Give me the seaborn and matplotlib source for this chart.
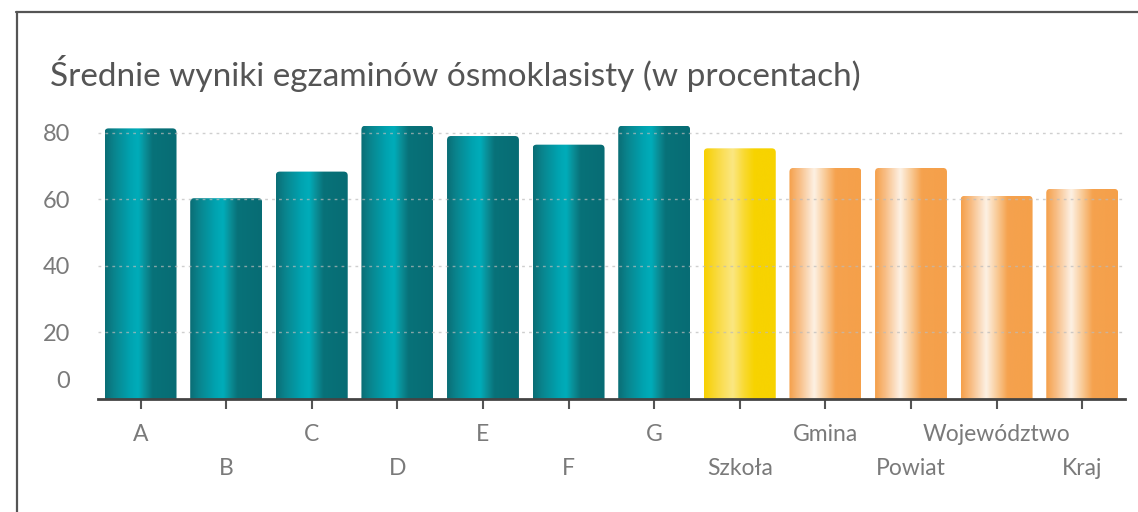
import matplotlib
matplotlib.use('Agg')
import matplotlib.pyplot as plt
import matplotlib.transforms as mtransforms
from matplotlib.colors import LinearSegmentedColormap
from matplotlib.patches import FancyBboxPatch
import numpy as np
import pandas as pd
import seaborn as sns

categories = ['A', 'B', 'C', 'D', 'E', 'F', 'G',
              'Szkoła', 'Gmina', 'Powiat', 'Województwo', 'Kraj']
values = [81.3, 60.3, 68.3, 82.1, 79.0, 76.4, 82.1, 75.3, 69.4, 69.4, 61.0, 63.1]
groups = ['klasa'] * 7 + ['szkoła'] + ['region'] * 4
y_ticks = [0, 20, 40, 60, 80]
title = 'Średnie wyniki egzaminów ósmoklasisty (w procentach)'

sns.set_theme(style='white')
plt.rcParams['font.family'] = ['Lato', 'DejaVu Sans']

df = pd.DataFrame({'kat': categories, 'wynik': values, 'grupa': groups})
base = {'klasa': '#0a8f98', 'szkoła': '#f8d400', 'region': '#f5a04a'}
grads = {
    'klasa': [(0, '#0a6d75'), (0.12, '#0a838c'), (0.35, '#00a3b0'), (0.46, '#00adba'),
              (0.56, '#0a8e97'), (0.66, '#087279'), (1, '#076c74')],
    'szkoła': [(0, '#f7d000'), (0.25, '#fade55'), (0.4, '#fbe782'), (0.55, '#f9da35'),
               (0.7, '#f7d300'), (1, '#f7d300')],
    'region': [(0, '#f5a04a'), (0.15, '#f8bf88'), (0.35, '#fdf1e4'), (0.5, '#f9cb98'),
               (0.65, '#f5a24e'), (1, '#f5a04a')],
}
cmaps = {k: LinearSegmentedColormap.from_list(k, v) for k, v in grads.items()}

fig = plt.figure(figsize=(11.38, 5.12), dpi=100)
ax = fig.add_axes([0.0859, 0.2213, 0.9027, 0.552])

sns.barplot(data=df, x='kat', y='wynik', hue='grupa', palette=base,
            width=0.84, legend=False, ax=ax, saturation=1)
ax.set_xlim(-0.5, len(categories) - 0.5)
ax.set_ylim(0, 85)

# gradient fill with rounded top corners
px_x = 0.9027 * 1138 / (len(categories))
px_y = 0.552 * 512 / 85
cat_group = dict(zip(categories, groups))
for bar in sorted(ax.patches, key=lambda p: p.get_x()):
    x0, w, h = bar.get_x(), bar.get_width(), bar.get_height()
    grp = cat_group[categories[int(round(x0 + w / 2))]]
    clip = FancyBboxPatch((x0, -5), w, h + 5,
                          boxstyle='round,pad=0,rounding_size=%f' % (4 / px_x),
                          mutation_aspect=px_x / px_y,
                          transform=ax.transData, facecolor='none', edgecolor='none')
    ax.add_patch(clip)
    grad = np.linspace(0, 1, 256).reshape(1, -1)
    im = ax.imshow(grad, cmap=cmaps[grp], aspect='auto',
                   extent=(x0, x0 + w, 0, h), zorder=2, interpolation='bicubic')
    im.set_clip_path(clip)
    bar.set_visible(False)
ax.set_xlim(-0.5, len(categories) - 0.5)
ax.set_ylim(0, 85)

ax.set_yticks(y_ticks)
ax.set_yticklabels([str(t) for t in y_ticks])
for t in y_ticks[1:]:
    ax.axhline(t, color='#bbbbbb', lw=1, ls=(0, (2, 3)), zorder=3, alpha=0.7)

ax.set_xlabel('')
ax.set_ylabel('')
sns.despine(ax=ax, left=True)
ax.spines['bottom'].set_color('#444444')
ax.spines['bottom'].set_linewidth(2)
ax.spines['bottom'].set_zorder(5)

ax.tick_params(axis='x', bottom=True, length=7, width=1.5, color='#555555',
               labelsize=16.5, labelcolor='#7a7a7a', pad=11)
ax.tick_params(axis='y', left=False, labelsize=17, labelcolor='#7a7a7a', pad=14)

for i, lab in enumerate(ax.get_xticklabels()):
    if i % 2 == 1:
        lab.set_transform(lab.get_transform() +
                          mtransforms.ScaledTranslation(0, -0.34, fig.dpi_scale_trans))
ylabs = ax.get_yticklabels()
ylabs[0].set_transform(ylabs[0].get_transform() +
                       mtransforms.ScaledTranslation(0, 0.19, fig.dpi_scale_trans))

fig.text(50 / 1138, 1 - 73 / 512, title, fontsize=24, color='#555555',
         va='center', ha='left')

# outer frame (top and left edges visible)
fig.add_artist(plt.Line2D([16 / 1138, 1.0], [1 - 11.5 / 512] * 2,
                          color='#555555', lw=1.6, transform=fig.transFigure))
fig.add_artist(plt.Line2D([16.5 / 1138] * 2, [0, 1 - 11.5 / 512],
                          color='#555555', lw=1.6, transform=fig.transFigure))

fig.savefig('out.png', dpi=100)
